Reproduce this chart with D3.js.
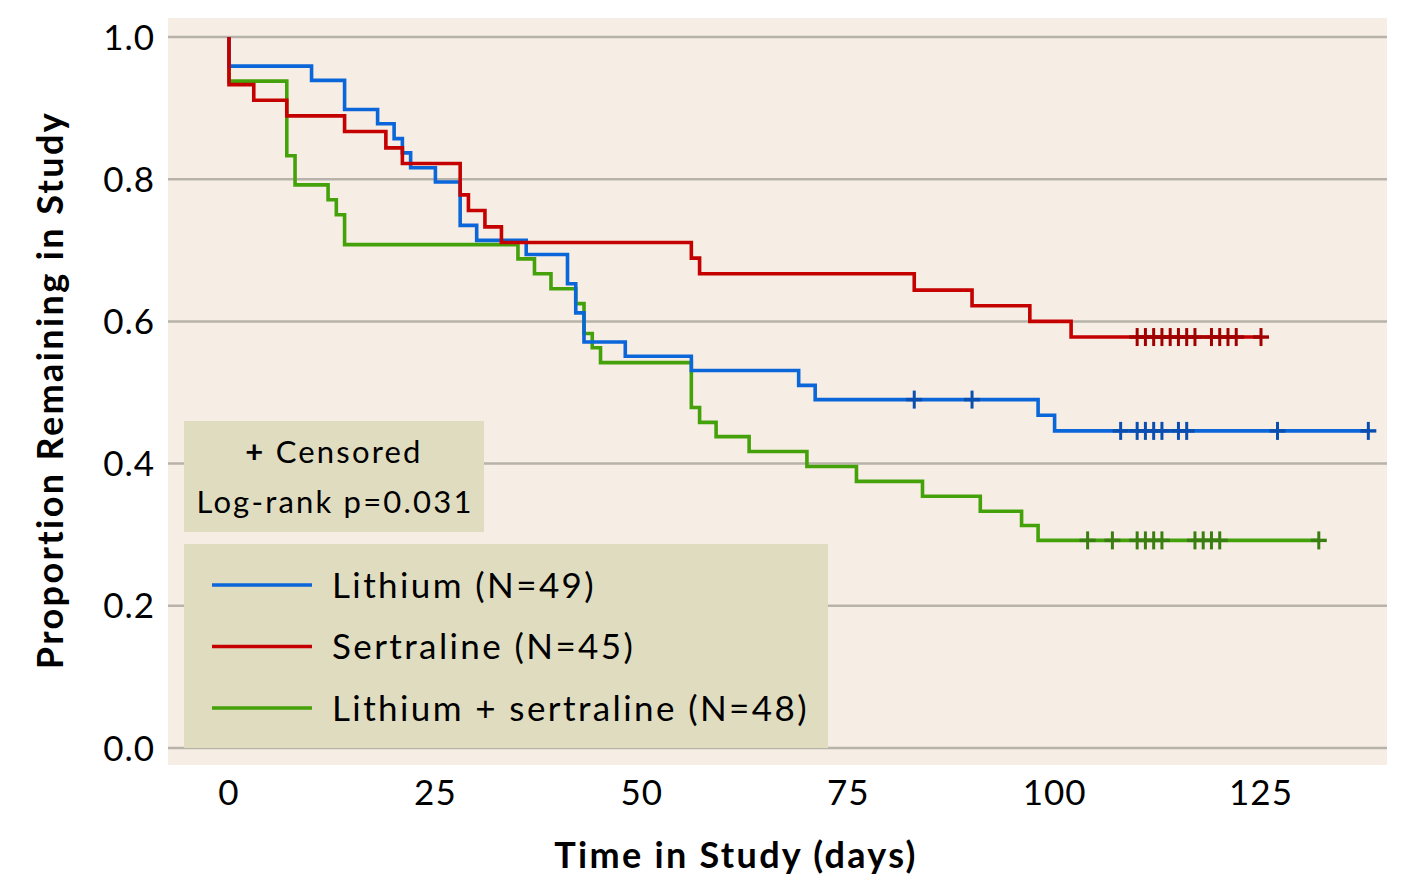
<!DOCTYPE html>
<html>
<head>
<meta charset="utf-8">
<script src="https://cdn.jsdelivr.net/npm/d3@7"></script>
<style>
  body { margin: 0; background: white; }
  text { font-family: Lato, "Open Sans", sans-serif; }
</style>
</head>
<body>
<div id="chart"></div>
<script>
// Kaplan-Meier data (event days, survival after event, censor days)
const lithiumTimes = [0, 10, 14, 18, 20, 21, 22, 25, 28, 30, 36, 41, 42, 43, 48, 56, 69, 71, 98, 100];
const lithiumSurv = [0.959, 0.939, 0.898, 0.878, 0.857, 0.837, 0.816, 0.796, 0.735, 0.714, 0.694, 0.653, 0.612, 0.571, 0.551, 0.531, 0.510, 0.490, 0.468, 0.446];
const lithiumCensor = [83, 90, 108, 110, 111, 112, 113, 115, 116, 127, 138];

const sertralineTimes = [0, 3, 7, 14, 19, 21, 28, 29, 31, 33, 56, 57, 83, 90, 97, 102];
const sertralineSurv = [0.933, 0.911, 0.889, 0.867, 0.844, 0.822, 0.778, 0.756, 0.733, 0.711, 0.689, 0.667, 0.644, 0.622, 0.600, 0.578];
const sertralineCensor = [110, 111, 112, 113, 114, 115, 116, 117, 119, 120, 121, 122, 125];

const comboTimes = [0, 7, 8, 12, 13, 14, 35, 37, 39, 42, 43, 44, 45, 56, 57, 59, 63, 70, 76, 84, 91, 96, 98];
const comboSurv = [0.938, 0.833, 0.792, 0.771, 0.750, 0.708, 0.688, 0.667, 0.646, 0.625, 0.583, 0.563, 0.542, 0.479, 0.458, 0.438, 0.417, 0.396, 0.375, 0.354, 0.333, 0.313, 0.292];
const comboCensor = [104, 107, 110, 111, 112, 113, 117, 118, 119, 120, 132];

const xTicks = [0, 25, 50, 75, 100, 125];
const yTicks = [0, 0.2, 0.4, 0.6, 0.8, 1.0];

const series = [
  { name: "Lithium + sertraline (N=48)", times: comboTimes, surv: comboSurv, censor: comboCensor, color: "#44a10a", dark: "#3a7d12" },
  { name: "Lithium (N=49)", times: lithiumTimes, surv: lithiumSurv, censor: lithiumCensor, color: "#0a66d9", dark: "#0a4fb0" },
  { name: "Sertraline (N=45)", times: sertralineTimes, surv: sertralineSurv, censor: sertralineCensor, color: "#c40000", dark: "#a00000" }
];
const legendOrder = [1, 2, 0];

const width = 1424;
const height = 886;
const plot = { left: 168, right: 1387, top: 18, bottom: 765 };

const svg = d3.select("#chart")
  .append("svg")
  .attr("width", width)
  .attr("height", height)
  .style("background-color", "white");

const x = d3.scaleLinear().domain([0, 125]).range([229, 1261]);
const y = d3.scaleLinear().domain([0, 1]).range([748, 37]);

// plot background
svg.append("rect")
  .attr("x", plot.left).attr("y", plot.top)
  .attr("width", plot.right - plot.left).attr("height", plot.bottom - plot.top)
  .attr("fill", "#f6eee4");

// gridlines
svg.append("g")
  .selectAll("line")
  .data(yTicks)
  .enter().append("line")
  .attr("x1", plot.left).attr("x2", plot.right)
  .attr("y1", d => y(d)).attr("y2", d => y(d))
  .attr("stroke", "#b7b3aa")
  .attr("stroke-width", 2.5);

// y tick labels
svg.append("g")
  .selectAll("text")
  .data(yTicks)
  .enter().append("text")
  .attr("x", 155)
  .attr("y", d => y(d))
  .attr("dy", "0.36em")
  .attr("text-anchor", "end")
  .style("font-size", "35px")
  .style("letter-spacing", "1px")
  .text(d => d.toFixed(1));

// x tick labels
svg.append("g")
  .selectAll("text")
  .data(xTicks)
  .enter().append("text")
  .attr("x", d => x(d))
  .attr("y", 792)
  .attr("dy", "0.36em")
  .attr("text-anchor", "middle")
  .style("font-size", "35px")
  .style("letter-spacing", "1px")
  .text(d => d);

// axis titles
svg.append("text")
  .attr("x", 736)
  .attr("y", 855)
  .attr("dy", "0.36em")
  .attr("text-anchor", "middle")
  .style("font-size", "36px")
  .style("font-weight", "bold")
  .style("letter-spacing", "2.3px")
  .text("Time in Study (days)");

svg.append("text")
  .attr("transform", "translate(50,390) rotate(-90)")
  .attr("dy", "0.36em")
  .attr("text-anchor", "middle")
  .style("font-size", "36px")
  .style("font-weight", "bold")
  .style("letter-spacing", "2.4px")
  .text("Proportion Remaining in Study");

// step path for a KM curve
function stepPoints(s) {
  const pts = [[0, 1]];
  let cur = 1;
  s.times.forEach((t, i) => {
    pts.push([t, cur]);
    cur = s.surv[i];
    pts.push([t, cur]);
  });
  const end = d3.max([d3.max(s.times), d3.max(s.censor)]);
  pts.push([end, cur]);
  return pts;
}
function survAt(s, t) {
  let v = 1;
  s.times.forEach((tt, i) => { if (tt <= t) v = s.surv[i]; });
  return v;
}

const line = d3.line().x(d => x(d[0])).y(d => y(d[1]));

series.forEach(s => {
  svg.append("path")
    .attr("d", line(stepPoints(s)))
    .attr("fill", "none")
    .attr("stroke", s.color)
    .attr("stroke-width", 3.6);

  const g = svg.append("g");
  s.censor.forEach(t => {
    const cx = x(t), cy = y(survAt(s, t));
    g.append("line")
      .attr("x1", cx).attr("x2", cx).attr("y1", cy - 9).attr("y2", cy + 9)
      .attr("stroke", s.dark).attr("stroke-width", 3);
    g.append("line")
      .attr("x1", cx - 8).attr("x2", cx + 8).attr("y1", cy).attr("y2", cy)
      .attr("stroke", s.dark).attr("stroke-width", 3.4);
  });
});

// censored / log-rank box
svg.append("rect")
  .attr("x", 184).attr("y", 421).attr("width", 300).attr("height", 111)
  .attr("fill", "#dfdcc0");
const cens = svg.append("text")
  .attr("x", 334).attr("y", 452).attr("dy", "0.36em")
  .attr("text-anchor", "middle")
  .style("font-size", "31px")
  .style("letter-spacing", "2.2px");
cens.append("tspan").style("font-weight", "bold").text("+");
cens.append("tspan").text(" Censored");
svg.append("text")
  .attr("x", 335).attr("y", 502).attr("dy", "0.36em")
  .attr("text-anchor", "middle")
  .style("font-size", "31px")
  .style("letter-spacing", "2.2px")
  .text("Log-rank p=0.031");

// legend
svg.append("rect")
  .attr("x", 184).attr("y", 544).attr("width", 644).attr("height", 204)
  .attr("fill", "#dfdcc0");
legendOrder.forEach((idx, i) => {
  const s = series[idx];
  const ly = 585 + i * 61.5;
  svg.append("line")
    .attr("x1", 212).attr("x2", 312).attr("y1", ly).attr("y2", ly)
    .attr("stroke", s.color).attr("stroke-width", 3.6);
  svg.append("text")
    .attr("x", 332).attr("y", ly).attr("dy", "0.36em")
    .style("font-size", "35px")
    .style("letter-spacing", "2.4px")
    .text(s.name);
});
</script>
</body>
</html>
